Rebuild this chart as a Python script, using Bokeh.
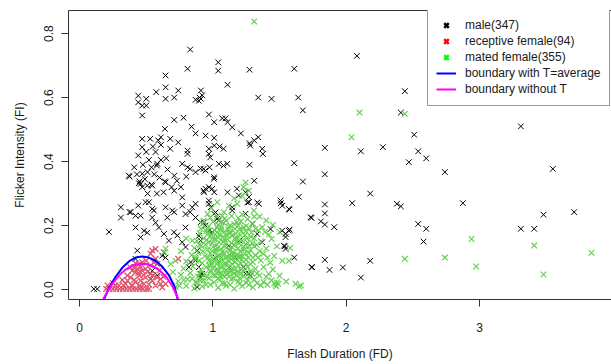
from bokeh.plotting import figure
from bokeh.models import (Range1d, FixedTicker, Legend, LegendItem, ColumnDataSource,
                          LinearAxis)
from bokeh.embed import file_html
from bokeh.resources import INLINE

# ---------------- data ----------------
x_ticks = [0, 1, 2, 3]
x_tick_labels = ["0", "1", "2", "3"]
y_ticks = [0.0, 0.2, 0.4, 0.6, 0.8]
y_tick_labels = ["0.0", "0.2", "0.4", "0.6", "0.8"]

legend_labels = ["male(347)", "receptive female(94)", "mated female(355)",
                 "boundary with T=average", "boundary without T"]

male_points = [
    (0.83, 0.75), (1.04, 0.71), (1.04, 0.684), (0.81, 0.69), (1.275, 0.687), (1.61, 0.69), (2.08, 0.73),
    (0.645, 0.669), (1.11, 0.64), (0.645, 0.632), (0.645, 0.596), (0.575, 0.617), (0.74, 0.622), (0.71, 0.60),
    (0.44, 0.606), (0.44, 0.585), (0.50, 0.596), (0.47, 0.575), (0.50, 0.575), (0.47, 0.544),
    (0.91, 0.622), (0.895, 0.59), (0.91, 0.596), (0.87, 0.593), (0.92, 0.607), (0.90, 0.60),
    (1.34, 0.60), (1.44, 0.596), (1.64, 0.60), (1.675, 0.56), (2.44, 0.62), (2.41, 0.553), (2.51, 0.484),
    (3.31, 0.51), (3.55, 0.377),
    (0.71, 0.53), (0.78, 0.537), (0.97, 0.547), (1.01, 0.523), (1.07, 0.535), (1.095, 0.535), (1.11, 0.523),
    (1.145, 0.507), (1.21, 0.488), (0.84, 0.509), (0.87, 0.488), (0.945, 0.481), (1.01, 0.474),
    (0.64, 0.502), (0.61, 0.476), (0.68, 0.471), (0.47, 0.471), (0.53, 0.471), (0.59, 0.466),
    (0.47, 0.445), (0.55, 0.447), (0.61, 0.452), (0.74, 0.46), (0.81, 0.434), (0.81, 0.424),
    (0.97, 0.44), (0.97, 0.424), (0.98, 0.413), (1.01, 0.45), (1.05, 0.447), (1.08, 0.44),
    (1.275, 0.457), (1.34, 0.476), (1.31, 0.466), (1.28, 0.45), (1.37, 0.44), (1.375, 0.424), (1.61, 0.395),
    (0.44, 0.419), (0.41, 0.382), (0.475, 0.39), (0.51, 0.367), (0.54, 0.382), (0.61, 0.405), (0.58, 0.3875),
    (0.375, 0.353), (0.445, 0.332), (0.45, 0.338), (0.54, 0.328), (0.64, 0.338), (0.71, 0.356),
    (0.77, 0.393), (0.81, 0.382), (0.87, 0.367), (0.93, 0.377), (0.80, 0.353), (0.83, 0.377),
    (0.975, 0.382), (1.01, 0.351), (1.045, 0.393), (1.08, 0.3875), (1.275, 0.39), (1.675, 0.3375),
    (0.908, 0.378), (0.945, 0.372), (1.108, 0.393), (1.008, 0.346),
    (0.37, 0.356), (0.458, 0.33), (0.508, 0.325), (0.545, 0.325), (0.47, 0.362), (0.583, 0.393),
    (0.43, 0.36), (0.49, 0.345), (0.52, 0.405), (0.56, 0.36), (0.60, 0.35), (0.66, 0.375),
    (0.69, 0.32), (0.73, 0.34), (0.50, 0.43), (0.57, 0.43), (0.65, 0.41), (0.68, 0.44),
    (1.84, 0.443), (2.11, 0.432), (2.275, 0.445), (2.54, 0.432), (2.60, 0.41), (2.47, 0.398), (1.84, 0.36),
    (2.74, 0.367), (2.18, 0.30), (1.645, 0.29), (2.875, 0.27), (2.045, 0.27), (2.38, 0.268), (2.41, 0.26),
    (1.51, 0.27), (1.575, 0.25), (1.84, 0.266), (1.84, 0.238), (1.74, 0.224), (1.81, 0.213), (1.84, 0.203),
    (1.91, 0.195), (3.48, 0.234), (3.71, 0.242), (3.31, 0.19), (3.41, 0.19), (2.54, 0.205), (2.60, 0.19),
    (2.58, 0.15), (1.545, 0.174), (1.575, 0.1875), (1.54, 0.135), (1.61, 0.10), (1.84, 0.093), (1.74, 0.07),
    (1.875, 0.0615), (1.975, 0.069), (2.18, 0.09), (2.11, 0.0375),
    (0.47, 0.32), (0.51, 0.30), (0.58, 0.30), (0.63, 0.304), (0.71, 0.309), (0.76, 0.32), (0.645, 0.335),
    (0.93, 0.309), (0.97, 0.32), (1.01, 0.304), (1.11, 0.304), (1.18, 0.315), (1.245, 0.304), (0.87, 0.268),
    (1.31, 0.34), (0.31, 0.257), (0.375, 0.242), (0.44, 0.2625), (0.495, 0.273), (0.545, 0.252),
    (0.645, 0.257), (0.71, 0.242), (0.77, 0.2625), (0.83, 0.242), (0.97, 0.278), (1.01, 0.237),
    (1.27, 0.273), (1.345, 0.268), (0.995, 0.315), (0.945, 0.315), (0.933, 0.304), (1.195, 0.294),
    (1.27, 0.289), (1.333, 0.272), (1.258, 0.272), (1.145, 0.257),
    (0.31, 0.225), (0.383, 0.242), (0.42, 0.231), (0.458, 0.231), (0.52, 0.273), (0.545, 0.225),
    (0.57, 0.209), (0.558, 0.247), (0.42, 0.194), (0.483, 0.184), (0.508, 0.178), (0.458, 0.163),
    (0.595, 0.194), (0.633, 0.174), (0.67, 0.153), (0.708, 0.179), (0.658, 0.225), (0.695, 0.247),
    (0.77, 0.288), (0.845, 0.257), (0.795, 0.236), (0.87, 0.225), (0.908, 0.21), (0.795, 0.194),
    (0.22, 0.18), (0.433, 0.122), (0.42, 0.096), (0.62, 0.106), (0.645, 0.10), (0.633, 0.116),
    (0.77, 0.148), (0.733, 0.169), (0.795, 0.133), (0.833, 0.086), (0.82, 0.07),
    (0.545, 0.059), (0.533, 0.033), (0.583, 0.044), (0.107, 0.002), (0.133, 0.002), (0.908, 0.049),
    (0.97, 0.268), (0.983, 0.257), (1.02, 0.241), (1.033, 0.221), (1.045, 0.216),
    (0.933, 0.21), (0.945, 0.20), (0.97, 0.184), (0.995, 0.179),
    (0.895, 0.168), (0.908, 0.153), (0.883, 0.122), (0.87, 0.091), (0.895, 0.07), (0.92, 0.049),
    (0.908, 0.039), (0.883, 0.008),
    (1.145, 0.247), (1.245, 0.237), (1.295, 0.206), (1.333, 0.174), (1.37, 0.148), (1.433, 0.189),
    (1.52, 0.184), (1.545, 0.164), (1.57, 0.184), (1.533, 0.137), (1.545, 0.127), (1.508, 0.278),
    (1.52, 0.262), (1.57, 0.252), (1.733, 0.226),
    (1.12, 0.137), (1.20, 0.153), (1.245, 0.05), (1.17, 0.10), (1.02, 0.10), (1.12, 0.07), (1.23, 0.07),
    (1.27, 0.05), (1.28, 0.044), (1.745, 0.07),
]

receptive_points = [
    (0.20, 0.002), (0.225, 0.002), (0.25, 0.002), (0.275, 0.002), (0.30, 0.002), (0.325, 0.002),
    (0.35, 0.002), (0.375, 0.002), (0.40, 0.002), (0.425, 0.002), (0.45, 0.002), (0.475, 0.002),
    (0.50, 0.002), (0.52, 0.002),
    (0.21, 0.013), (0.27, 0.013), (0.33, 0.013), (0.39, 0.013), (0.45, 0.013),
    (0.42, 0.054), (0.445, 0.044), (0.383, 0.038), (0.458, 0.028), (0.42, 0.023), (0.483, 0.018),
    (0.395, 0.0125), (0.52, 0.016), (0.458, 0.007), (0.345, 0.018), (0.295, 0.0125),
    (0.407, 0.07), (0.433, 0.065), (0.445, 0.08), (0.47, 0.059), (0.57, 0.096), (0.557, 0.085),
    (0.583, 0.08), (0.545, 0.028), (0.57, 0.0125), (0.608, 0.018), (0.583, 0.038),
    (0.545, 0.122), (0.57, 0.127), (0.533, 0.112), (0.74, 0.096),
    (0.395, 0.059), (0.358, 0.044), (0.495, 0.038), (0.533, 0.049), (0.608, 0.033), (0.645, 0.018),
    (0.62, 0.007), (0.495, 0.065), (0.458, 0.07), (0.42, 0.082), (0.533, 0.075),
    (0.36, 0.028), (0.41, 0.03), (0.44, 0.052), (0.48, 0.045), (0.51, 0.055), (0.47, 0.085),
    (0.50, 0.09), (0.32, 0.03), (0.25, 0.02), (0.55, 0.045), (0.60, 0.06), (0.63, 0.04), (0.38, 0.07),
]

mated_points = [
    (1.31, 0.8375), (2.10, 0.553), (2.44, 0.549), (2.04, 0.476), (2.94, 0.158), (3.41, 0.1375),
    (3.84, 0.115), (2.44, 0.096), (2.74, 0.10), (2.975, 0.072), (3.48, 0.047),
    (1.58, 0.13), (1.57, 0.09), (1.645, 0.01), (1.62, 0.018), (1.66, 0.0125),
    (1.46, 0.02), (1.47, 0.015), (1.48, 0.022), (1.475, 0.01), (1.49, 0.018),
    (1.245, 0.335), (1.23, 0.32), (1.27, 0.309), (1.033, 0.273), (1.083, 0.242), (1.183, 0.268),
    (1.308, 0.247), (0.99, 0.255), (0.96, 0.236), (1.35, 0.228), (1.40, 0.216),
    (1.16, 0.285), (1.22, 0.292), (1.12, 0.262),
    (0.645, 0.128), (0.633, 0.117), (0.683, 0.08), (0.72, 0.09), (0.845, 0.153), (0.87, 0.10),
    (0.895, 0.09), (0.845, 0.034), (0.87, 0.023), (0.908, 0.028), (0.70, 0.055), (0.76, 0.12),
    (0.80, 0.16), (0.78, 0.03), (0.75, 0.012),
    (0.92, 0.205), (0.97, 0.198), (1.00, 0.212), (1.04, 0.202), (1.08, 0.209), (1.12, 0.196),
    (1.16, 0.205), (1.21, 0.213), (1.25, 0.199), (1.30, 0.206), (1.37, 0.195), (1.45, 0.202),
    (0.90, 0.176), (0.95, 0.183), (0.99, 0.171), (1.03, 0.179), (1.06, 0.186), (1.10, 0.172),
    (1.13, 0.181), (1.17, 0.175), (1.20, 0.188), (1.24, 0.17), (1.29, 0.178), (1.34, 0.185),
    (1.42, 0.172), (1.50, 0.18),
    (0.88, 0.152), (0.93, 0.16), (0.97, 0.148), (1.01, 0.157), (1.04, 0.163), (1.08, 0.15),
    (1.11, 0.158), (1.14, 0.145), (1.18, 0.162), (1.22, 0.153), (1.26, 0.147), (1.31, 0.16),
    (1.36, 0.151), (1.44, 0.158),
    (0.86, 0.13), (0.91, 0.137), (0.96, 0.125), (1.00, 0.133), (1.03, 0.14), (1.06, 0.127),
    (1.09, 0.135), (1.13, 0.122), (1.16, 0.138), (1.19, 0.129), (1.23, 0.134), (1.28, 0.124),
    (1.33, 0.139), (1.40, 0.128), (1.48, 0.135),
    (0.84, 0.108), (0.89, 0.115), (0.94, 0.104), (0.98, 0.112), (1.02, 0.118), (1.05, 0.106),
    (1.08, 0.113), (1.11, 0.101), (1.15, 0.117), (1.18, 0.109), (1.22, 0.103), (1.27, 0.114),
    (1.32, 0.107), (1.38, 0.112), (1.46, 0.105),
    (0.80, 0.088), (0.87, 0.094), (0.92, 0.083), (0.97, 0.091), (1.00, 0.097), (1.04, 0.085),
    (1.07, 0.092), (1.10, 0.08), (1.14, 0.095), (1.17, 0.087), (1.21, 0.082), (1.25, 0.093),
    (1.30, 0.086), (1.36, 0.091), (1.43, 0.084), (1.52, 0.09),
    (0.78, 0.066), (0.85, 0.073), (0.91, 0.062), (0.95, 0.07), (0.99, 0.076), (1.03, 0.064),
    (1.06, 0.071), (1.10, 0.06), (1.13, 0.074), (1.17, 0.066), (1.21, 0.061), (1.26, 0.072),
    (1.32, 0.065), (1.38, 0.07), (1.45, 0.063),
    (0.76, 0.046), (0.83, 0.052), (0.89, 0.041), (0.94, 0.049), (0.98, 0.055), (1.02, 0.043),
    (1.06, 0.05), (1.09, 0.04), (1.13, 0.054), (1.18, 0.045), (1.23, 0.041), (1.29, 0.051),
    (1.35, 0.044), (1.42, 0.049), (1.50, 0.043),
    (0.74, 0.026), (0.81, 0.032), (0.88, 0.021), (0.93, 0.029), (0.97, 0.035), (1.01, 0.023),
    (1.05, 0.03), (1.09, 0.02), (1.14, 0.033), (1.19, 0.025), (1.25, 0.021), (1.31, 0.031),
    (1.38, 0.024), (1.44, 0.029), (1.55, 0.025),
    (0.72, 0.008), (0.80, 0.012), (0.86, 0.004), (0.92, 0.01), (0.98, 0.015), (1.04, 0.006),
    (1.10, 0.012), (1.16, 0.003), (1.22, 0.011), (1.30, 0.007), (1.36, 0.013),
    (0.955, 0.19), (1.015, 0.185), (1.065, 0.195), (1.115, 0.188), (1.165, 0.19), (1.215, 0.183),
    (1.275, 0.19), (0.945, 0.14), (0.995, 0.145), (1.045, 0.148), (1.095, 0.142), (1.145, 0.132),
    (1.195, 0.145), (1.245, 0.14), (1.295, 0.145), (0.965, 0.10), (1.015, 0.092), (1.065, 0.10),
    (1.115, 0.09), (1.165, 0.098), (1.215, 0.093), (1.265, 0.10), (0.985, 0.06), (1.035, 0.056),
    (1.085, 0.065), (1.135, 0.058), (1.185, 0.055), (1.235, 0.06), (1.285, 0.058),
    (0.93, 0.215), (0.98, 0.225), (1.03, 0.228), (1.09, 0.222), (1.14, 0.23), (1.19, 0.224),
    (1.26, 0.22), (1.31, 0.228), (0.91, 0.19), (1.03, 0.195), (1.085, 0.18), (1.145, 0.168),
    (1.19, 0.20), (1.23, 0.195), (1.32, 0.19), (1.39, 0.18),
    (0.90, 0.14), (0.975, 0.165), (1.025, 0.125), (1.075, 0.165), (1.125, 0.11), (1.175, 0.15),
    (1.205, 0.118), (1.255, 0.16), (1.31, 0.135), (1.35, 0.12),
    (0.925, 0.12), (0.985, 0.085), (1.035, 0.105), (1.085, 0.08), (1.135, 0.105), (1.19, 0.075),
    (1.24, 0.113), (1.28, 0.08), (1.34, 0.10), (1.41, 0.10),
    (0.90, 0.05), (0.96, 0.04), (1.00, 0.065), (1.04, 0.035), (1.075, 0.045), (1.12, 0.04),
    (1.16, 0.05), (1.20, 0.035), (1.27, 0.04), (1.33, 0.05), (1.40, 0.04),
    (0.95, 0.015), (1.07, 0.02), (1.13, 0.015), (1.20, 0.018), (1.27, 0.015), (1.33, 0.02), (1.41, 0.015),
    (0.965, 0.175), (1.005, 0.165), (1.045, 0.172), (1.085, 0.158), (1.125, 0.175), (1.165, 0.16),
    (1.205, 0.17), (1.245, 0.182), (1.285, 0.165),
    (0.955, 0.155), (0.995, 0.12), (1.035, 0.13), (1.075, 0.12), (1.115, 0.125), (1.155, 0.11),
    (1.195, 0.10), (1.235, 0.125), (1.275, 0.135),
    (0.975, 0.075), (1.025, 0.08), (1.055, 0.085), (1.095, 0.10), (1.145, 0.08), (1.20, 0.105),
    (1.25, 0.08), (1.30, 0.10),
    (1.005, 0.045), (1.055, 0.04), (1.105, 0.05), (1.155, 0.035), (1.215, 0.05), (1.26, 0.03),
    (1.045, 0.06), (1.15, 0.065),
    (1.06, 0.21), (1.10, 0.215), (1.18, 0.21), (1.13, 0.20), (1.07, 0.23), (1.22, 0.235),
]

# decision boundaries
boundary_T_fd = [0.18, 0.22, 0.27, 0.32, 0.37, 0.42, 0.47, 0.52, 0.57, 0.62, 0.67, 0.71, 0.738]
boundary_T_fi = [-0.034, 0.005, 0.040, 0.068, 0.088, 0.100, 0.103, 0.100, 0.090, 0.072, 0.045, 0.012, -0.034]
boundary_noT_fd = [0.172, 0.21, 0.25, 0.30, 0.35, 0.40, 0.45, 0.50, 0.55, 0.60, 0.65, 0.70, 0.745]
boundary_noT_fi = [-0.034, -0.005, 0.020, 0.046, 0.064, 0.076, 0.081, 0.080, 0.073, 0.060, 0.040, 0.008, -0.034]

# ---------------- figure ----------------
FONT = "Liberation Sans"
TEXT = "#1a1a1a"
FRAME = "#333333"

p = figure(width=611, height=364, output_backend="svg", toolbar_location=None,
           x_range=Range1d(-0.083, 3.99), y_range=Range1d(-0.031, 0.872),
           min_border_left=68, min_border_right=0, min_border_top=10, min_border_bottom=65,
           background_fill_color="white", border_fill_color="white")
p.grid.visible = False
p.outline_line_color = None

def src(points):
    return ColumnDataSource(dict(fd=[a for a, b in points], fi=[b for a, b in points]))

p.scatter("fd", "fi", source=src(male_points), marker="x", size=8,
          line_color="#000000", line_width=1)
p.scatter("fd", "fi", source=src(receptive_points), marker="x", size=8,
          line_color="#DF536B", line_width=1.3)
p.scatter("fd", "fi", source=src(mated_points), marker="x", size=8,
          line_color="#61D04F", line_width=1.15)

p.line(boundary_T_fd, boundary_T_fi, line_color="#0000FF", line_width=2)
p.line(boundary_noT_fd, boundary_noT_fi, line_color="#FF00FF", line_width=2)

# legend-only renderers (bold symbols like R's legend); their single point is NaN, so not drawn
nan = float("nan")
def blank():
    return ColumnDataSource(dict(x=[nan], y=[nan]))
lm = p.scatter("x", "y", source=blank(), marker="x", line_color="#000000", line_width=2.5)
lr = p.scatter("x", "y", source=blank(), marker="x", line_color="#FF0000", line_width=2.5)
lg = p.scatter("x", "y", source=blank(), marker="x", line_color="#00FF00", line_width=2.5)
lb = p.line("x", "y", source=blank(), line_color="#0000FF", line_width=2)
lp = p.line("x", "y", source=blank(), line_color="#FF00FF", line_width=2)

legend = Legend(items=[LegendItem(label=t, renderers=[r]) for t, r in
                       zip(legend_labels, [lm, lr, lg, lb, lp])],
                location=(359, 193), padding=8, spacing=0,
                glyph_width=20, glyph_height=16, label_height=16, label_standoff=9,
                label_text_font=FONT, label_text_font_size="12px", label_text_color=TEXT,
                border_line_color=FRAME, border_line_width=1,
                background_fill_color="white", background_fill_alpha=1.0)
p.add_layout(legend)

# axes
p.xaxis.ticker = FixedTicker(ticks=x_ticks)
p.xaxis.major_label_overrides = {t: l for t, l in zip(x_ticks, x_tick_labels)}
p.yaxis.ticker = FixedTicker(ticks=y_ticks)
p.yaxis.major_label_overrides = {t: l for t, l in zip(y_ticks, y_tick_labels)}
p.yaxis.major_label_orientation = "vertical"

p.xaxis.axis_label = "Flash Duration (FD)"
p.yaxis.axis_label = "Flicker Intensity (FI)"

for ax in (p.xaxis[0], p.yaxis[0]):
    ax.axis_line_color = FRAME
    ax.axis_line_width = 1
    ax.major_tick_line_color = FRAME
    ax.major_tick_in = 0
    ax.major_tick_out = 7
    ax.minor_tick_line_color = None
    ax.major_label_text_font = FONT
    ax.major_label_text_font_size = "12px"
    ax.major_label_text_color = TEXT
    ax.axis_label_text_font = FONT
    ax.axis_label_text_font_size = "12px"
    ax.axis_label_text_font_style = "normal"
    ax.axis_label_text_color = TEXT

p.xaxis.major_label_standoff = 16
p.xaxis.axis_label_standoff = 12
p.yaxis.major_label_standoff = 8
p.yaxis.axis_label_standoff = 15

# top edge of the box (the right edge lies outside the cropped reference)
top = LinearAxis(ticker=FixedTicker(ticks=[]), axis_line_color=FRAME, axis_line_width=1,
                 major_tick_line_color=None, minor_tick_line_color=None,
                 major_label_text_font_size="0px")
p.add_layout(top, "above")

open("out.html", "w").write(file_html(p, INLINE))
